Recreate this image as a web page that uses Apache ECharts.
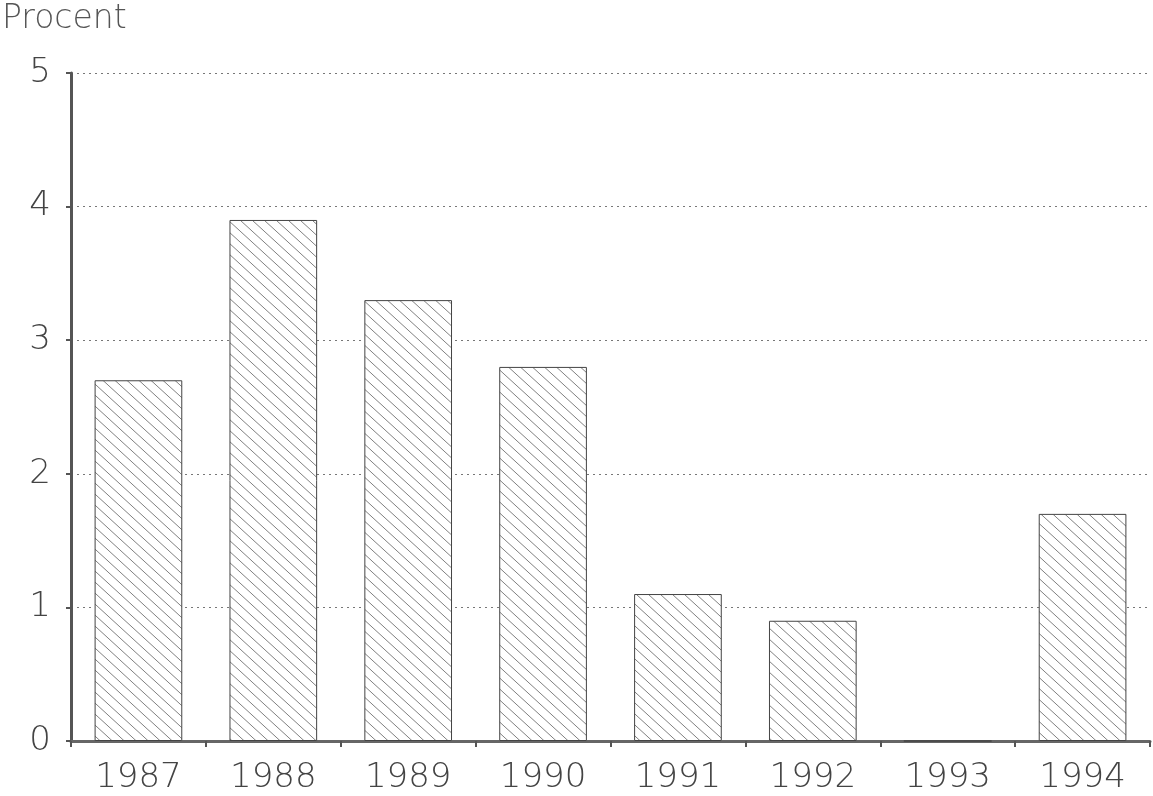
<!DOCTYPE html>
<html>
<head>
<meta charset="utf-8">
<script src="https://cdn.jsdelivr.net/npm/echarts@6/dist/echarts.min.js"></script>
<style>
html,body{margin:0;padding:0;background:#fff;}
#chart{width:1153px;height:796px;}
</style>
</head>
<body>
<div id="chart"></div>
<script>
const categories = ['1987','1988','1989','1990','1991','1992','1993','1994'];
const values = [2.7, 3.9, 3.3, 2.8, 1.1, 0.9, 0, 1.7];
const yTicks = [0, 1, 2, 3, 4, 5];
const yName = 'Procent';

function hatch() {
  const w = 12, h = 11;
  const c = document.createElement('canvas');
  c.width = w; c.height = h;
  const g = c.getContext('2d');
  g.fillStyle = '#fff';
  g.fillRect(0, 0, w, h);
  g.strokeStyle = '#808080';
  g.lineWidth = 1;
  for (const o of [-w, 0, w]) {
    g.beginPath();
    g.moveTo(o - w, -h);
    g.lineTo(o + 2 * w, 2 * h);
    g.stroke();
  }
  return c;
}

const font = '"DejaVu Sans", sans-serif';
const chart = echarts.init(document.getElementById('chart'), null, {renderer: 'canvas'});
chart.setOption({
  animation: false,
  backgroundColor: '#fff',
  title: {
    text: yName, left: -3, top: -2,
    textStyle: {fontFamily: font, fontSize: 33, fontWeight: 200, color: '#555'}
  },
  grid: {left: 71, right: 3, top: 73, bottom: 55, containLabel: false},
  xAxis: {
    type: 'category',
    data: categories,
    axisLine: {lineStyle: {color: '#666', width: 3}},
    axisTick: {show: true, length: 6, lineStyle: {color: '#555', width: 2}},
    axisLabel: {margin: 20, fontFamily: font, fontSize: 34, fontWeight: 200, color: '#444'}
  },
  yAxis: {
    type: 'value',
    min: yTicks[0], max: yTicks[yTicks.length - 1], interval: 1,
    axisLine: {show: true, lineStyle: {color: '#555', width: 3}},
    axisTick: {show: true, length: 5, lineStyle: {color: '#555', width: 2}},
    axisLabel: {margin: 20, fontFamily: font, fontSize: 34, fontWeight: 200, color: '#444'},
    splitLine: {show: true, lineStyle: {color: '#777', width: 1, type: [2, 4]}}
  },
  series: [{
    type: 'bar',
    data: values,
    barWidth: '65%',
    itemStyle: {
      color: {image: hatch(), repeat: 'repeat'},
      borderColor: '#444',
      borderWidth: 1
    }
  }]
});
</script>
</body>
</html>
